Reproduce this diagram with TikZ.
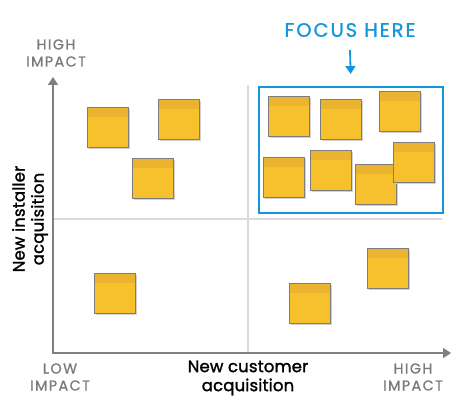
\documentclass[tikz,border=0pt]{standalone}
\usepackage{fontspec}
\setmainfont{Poppins}
\newfontfamily\capsfont{Poppins}[FakeBold=0.9, LetterSpace=10]
\newfontfamily\focusfont{Poppins}[FakeBold=1.0, LetterSpace=10]
\newfontfamily\titlefont{Poppins}[FakeBold=1.6, LetterSpace=1]
\usetikzlibrary{arrows.meta,shadows}
\definecolor{axisgray}{HTML}{7F7F83}
\definecolor{gridgray}{HTML}{DADADA}
\definecolor{labelgray}{HTML}{7A7A7E}
\definecolor{focusblue}{HTML}{1496DA}
\definecolor{notebody}{HTML}{F6C12D}
\definecolor{noteband}{HTML}{EBB430}
\definecolor{noteedge}{HTML}{7D7D7D}
\tikzset{
  sticky/.style={draw=noteedge, line width=1pt, fill=notebody, anchor=north west,
    minimum width=41pt, minimum height=40pt, inner sep=0pt,
    drop shadow={shadow xshift=1.3pt, shadow yshift=-1.3pt, fill=black!18, opacity=1},
    path picture={\fill[noteband] (path picture bounding box.north west)
      rectangle ([yshift=-9pt]path picture bounding box.north east);}},
  impact/.style={text=labelgray, font=\capsfont\fontsize{14.3}{17}\selectfont, align=center, inner sep=0pt},
  axistitle/.style={text=black, font=\titlefont\fontsize{16.5}{19}\selectfont, align=center, inner sep=0pt},
  axisline/.style={draw=axisgray, line width=1.5pt, -{Triangle[length=8pt,width=10pt]}},
  divider/.style={draw=gridgray, line width=1.4pt},
}
\begin{document}
\begin{tikzpicture}[x=1pt,y=-1pt]
\useasboundingbox (0,0) rectangle (470,409);

% quadrant dividers
\coordinate (vtop) at (248,85);
\coordinate (vbot) at (248,353);
\coordinate (hleft) at (53,219);
\coordinate (hright) at (442,219);
\draw[divider] (vtop) -- (vbot);
\draw[divider] (hleft) -- (hright);

% axes
\coordinate (origin) at (53,353);
\coordinate (ytip) at (53,77);
\coordinate (xtip) at (451,353);
\draw[axisline] (origin) -- (ytip);
\draw[axisline] ([xshift=-0.75pt]origin) -- (xtip);

% highlighted quadrant
\node (focus) [draw=focusblue, line width=2pt, anchor=north west,
  minimum width=184pt, minimum height=126pt, inner sep=0pt] at (258,86) {};
\node (focuslabel) [text=focusblue, font=\focusfont\fontsize{19.5}{20}\selectfont, inner sep=0pt] at (350,30) {FOCUS HERE};
\coordinate (arrowtop) at (350,50);
\draw[focusblue, line width=1.8pt, -{Triangle[length=8pt,width=10pt]}, shorten >=12pt] (arrowtop) -- (focus.north);

% axis labels
\node (yhigh) [impact] at (56,53) {HIGH\\IMPACT};
\node (xlow) [impact] at (60,377) {LOW\\IMPACT};
\node (xhigh) [impact] at (413,377) {HIGH\\IMPACT};
\node (xtitle) [axistitle] at (248,378) {New customer\\acquisition};
\node (ytitle) [axistitle, rotate=90] at (30,219) {New installer\\acquisition};

% sticky notes
\node (n1) [sticky] at (87,107) {};
\node (n2) [sticky] at (158,99) {};
\node (n3) [sticky] at (132,158) {};
\node (n4) [sticky] at (268,96) {};
\node (n5) [sticky] at (320,99) {};
\node (n6) [sticky] at (379,91) {};
\node (n7) [sticky] at (263,157) {};
\node (n8) [sticky] at (310,150) {};
\node (n9) [sticky] at (355,164) {};
\node (n10) [sticky] at (393,142) {};
\node (n11) [sticky] at (94,273) {};
\node (n12) [sticky] at (289,283) {};
\node (n13) [sticky] at (367,248) {};
\end{tikzpicture}
\end{document}
